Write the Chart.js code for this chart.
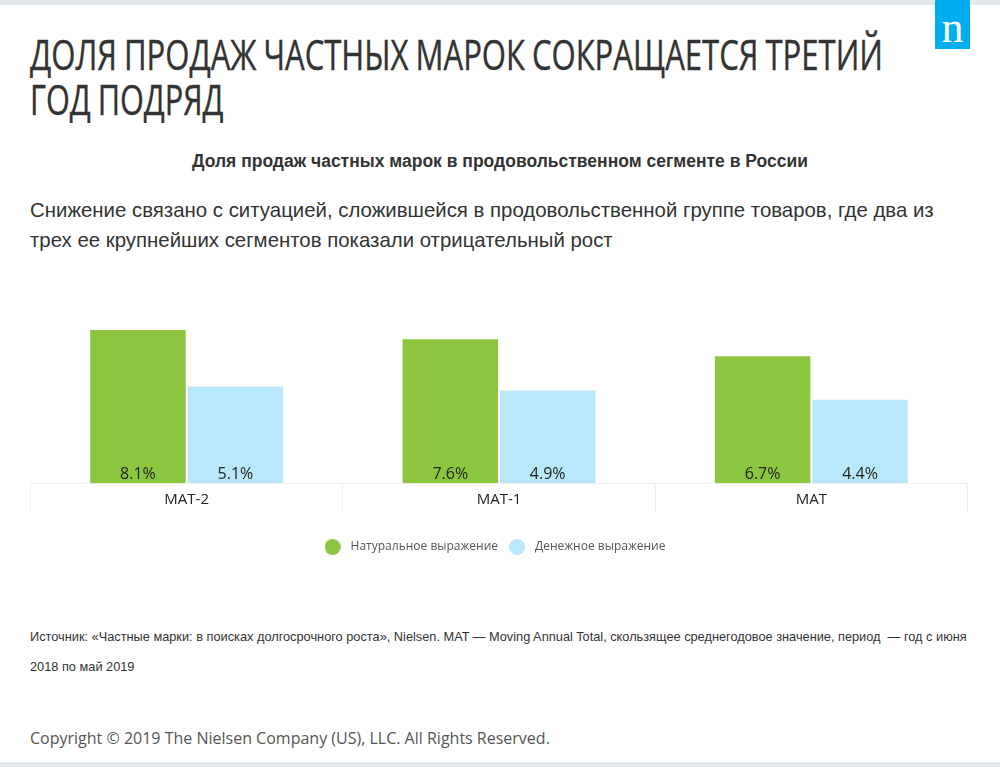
<!DOCTYPE html>
<html lang="ru">
<head>
<meta charset="utf-8">
<title>Доля продаж частных марок</title>
<script src="https://cdn.jsdelivr.net/npm/chart.js@4"></script>
<style>
    html, body { margin: 0; padding: 0; background: #fff; }
    body { position: relative; width: 1000px; height: 767px; overflow: hidden; }
    .bar { position: absolute; left: 0; width: 1000px; height: 5px; background: #e3e8ec; }
    .txt { position: absolute; white-space: pre; }
    #logo { position: absolute; left: 935px; top: 0; width: 35px; height: 49px; background: #00aeef; color: #fff;
        font: 44px/56px "Liberation Serif", serif; text-align: center; }
    #title1, #title2 { left: 30px; font: 42px/48px "Open Sans", sans-serif; color: #333; transform-origin: 0 0;
        transform: scaleX(0.74); word-spacing: -1.5px; -webkit-text-stroke: 0.4px #333; }
    #title2 { transform: scaleX(0.73); }
    #sub { left: 0; width: 1000px; top: 151px; text-align: center; font: bold 17.5px/20px "Liberation Sans", sans-serif; color: #333; }
    #lead1, #lead2 { left: 30px; font: 20.4px/30px "Liberation Sans", sans-serif; color: #333; }
    #src1, #src2 { left: 30px; font: 12.78px/18px "Liberation Sans", sans-serif; color: #333; }
    #copy { left: 30px; top: 727px; font: 16px/22px "Open Sans", sans-serif; color: #555; }
    #chartBox { position: absolute; left: 0; top: 294px; width: 1000px; height: 269px; }
</style>
</head>
<body>
<div class="bar" style="top:0"></div>
<div class="bar" style="top:762px"></div>
<div id="logo">n</div>
<div class="txt" id="title1" style="top:30px">ДОЛЯ ПРОДАЖ ЧАСТНЫХ МАРОК СОКРАЩАЕТСЯ ТРЕТИЙ</div>
<div class="txt" id="title2" style="top:75px">ГОД ПОДРЯД</div>
<div class="txt" id="sub">Доля продаж частных марок в продовольственном сегменте в России</div>
<div class="txt" id="lead1" style="top:195px">Снижение связано с ситуацией, сложившейся в продовольственной группе товаров, где два из</div>
<div class="txt" id="lead2" style="top:225px">трех ее крупнейших сегментов показали отрицательный рост</div>
<div id="chartBox"><canvas id="shareChart"></canvas></div>
<div class="txt" id="src1" style="top:628px">Источник: «Частные марки: в поисках долгосрочного роста», Nielsen. MAT — Moving Annual Total, скользящее среднегодовое значение, период  — год с июня</div>
<div class="txt" id="src2" style="top:658px">2018 по май 2019</div>
<div class="txt" id="copy">Copyright © 2019 The Nielsen Company (US), LLC. All Rights Reserved.</div>

<script>
// Chart data
const periods = ["MAT-2", "MAT-1", "MAT"];
const volumeShare = [8.1, 7.6, 6.7];
const valueShare = [5.1, 4.9, 4.4];

// Round legend marker, drawn on a small canvas so it can sit apart from its text
function makeDot(color) {
    const dot = document.createElement("canvas");
    dot.width = 16;
    dot.height = 16;
    const dotCtx = dot.getContext("2d");
    dotCtx.fillStyle = color;
    dotCtx.beginPath();
    dotCtx.arc(8, 8, 8, 0, Math.PI * 2);
    dotCtx.fill();
    return dot;
}

// Writes the percent value at the bottom of each bar
const barValueLabels = {
    id: "barValueLabels",
    afterDatasetsDraw(chart) {
        const ctx = chart.ctx;
        ctx.save();
        ctx.font = '16px "Open Sans", sans-serif';
        ctx.fillStyle = "#222";
        ctx.textAlign = "center";
        ctx.textBaseline = "middle";
        chart.data.datasets.forEach((dataset, i) => {
            chart.getDatasetMeta(i).data.forEach((bar, j) => {
                ctx.fillText(dataset.data[j].toFixed(1) + "%", bar.x, bar.base - 9);
            });
        });
        ctx.restore();
    }
};

// The legend sits a little left of the plot's centre
const legendShift = {
    id: "legendShift",
    afterLayout(chart) {
        chart.legend.left -= 6;
        chart.legend.right -= 6;
    }
};

new Chart(document.getElementById("shareChart").getContext("2d"), {
    type: "bar",
    data: {
        labels: periods,
        datasets: [
            { label: "Натуральное выражение", data: volumeShare, backgroundColor: "#8cc63f" },
            { label: "Денежное выражение", data: valueShare, backgroundColor: "#bae8fb" }
        ]
    },
    plugins: [barValueLabels, legendShift],
    options: {
        responsive: true,
        maintainAspectRatio: false,
        animation: false,
        categoryPercentage: 0.624,
        barPercentage: 0.98,
        layout: { padding: { left: 30.5, right: 32.5, top: 0, bottom: 0 } },
        scales: {
            y: { display: false, min: 0, max: 10 },
            x: {
                grid: { color: "#f0f0f0", drawOnChartArea: false, tickLength: 29 },
                border: { color: "#f0f0f0" },
                ticks: { color: "#222", font: { family: '"Open Sans", sans-serif', size: 15 }, padding: -21, maxRotation: 0 },
                afterFit(scale) { scale.height = 51; }
            }
        },
        plugins: {
            tooltip: { enabled: false },
            legend: {
                position: "bottom",
                labels: {
                    usePointStyle: true,
                    pointStyleWidth: 24,
                    padding: 7,
                    color: "#555",
                    font: { family: '"Open Sans", sans-serif', size: 12 },
                    generateLabels(chart) {
                        const items = Chart.defaults.plugins.legend.labels.generateLabels(chart);
                        items.forEach((item, i) => {
                            item.pointStyle = makeDot(chart.data.datasets[i].backgroundColor);
                        });
                        return items;
                    }
                }
            }
        }
    }
});
</script>
</body>
</html>
